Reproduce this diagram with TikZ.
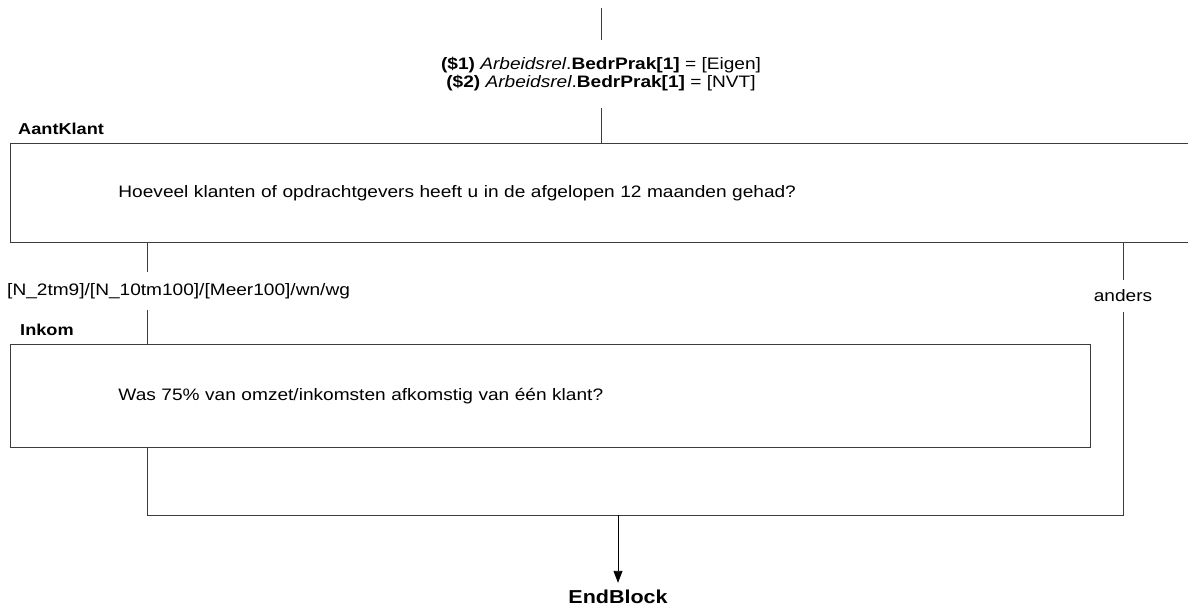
\documentclass[tikz,border=0pt]{standalone}
\usepackage{fontspec}
\setmainfont[FakeStretch=1.15]{Liberation Sans}
\usetikzlibrary{arrows.meta,positioning,calc}
\definecolor{lineG}{RGB}{60,60,60}

\begin{document}
\begin{tikzpicture}[x=1pt, y=-1pt,
  qbox/.style={draw=lineG, line width=0.9pt, anchor=north west, align=left,
    inner xsep=108pt, inner ysep=0pt, font=\fontsize{16.6}{17}\selectfont},
  title/.style={inner sep=0pt, font=\fontsize{15.8}{17}\selectfont\bfseries},
  lab/.style={inner sep=0pt, minimum height=#1, font=\fontsize{16.6}{17.5}\selectfont},
  conn/.style={draw=lineG, line width=0.9pt},
  arr/.style={-{Triangle[length=12pt, width=9pt]}, line width=0.9pt, black},
]
\useasboundingbox (0,0) rectangle (1188,610);
\clip (0,0) rectangle (1188,610);

% entry condition
\coordinate (top) at (601,8);
\node[lab=68pt, align=center] (cond) at (601,74) {%
  \textbf{(\$1)} \textit{Arbeidsrel}.\textbf{BedrPrak[1]} = [Eigen]\\
  \textbf{(\$2)} \textit{Arbeidsrel}.\textbf{BedrPrak[1]} = [NVT]};

% question AantKlant
\node[qbox, text width=984pt, minimum height=99pt] (box1) at (10,143) {%
  Hoeveel klanten of opdrachtgevers heeft u in de afgelopen 12 maanden gehad?};
\node[title, above right=8pt and 8pt of box1.north west] (t1) {AantKlant};

% branch labels
\node[lab=38pt, anchor=west] (lab1) at (7,291) {[N\_2tm9]/[N\_10tm100]/[Meer100]/wn/wg};
\node[lab=32pt] (lab2) at (1123,296) {anders};

% question Inkom
\node[qbox, text width=864pt, minimum height=103pt] (box2) at (10,344) {%
  Was 75\% van omzet/inkomsten afkomstig van één klant?};
\node[title, above right=8pt and 10pt of box2.north west] (t2) {Inkom};

% end of block
\coordinate (cl) at (147,515);
\coordinate (cr) at (1123,515);
\node[title, minimum height=28pt, font=\fontsize{18.7}{20}\selectfont\bfseries] (end) at (618,597) {EndBlock};

\draw[conn] (top) -- (cond);
\draw[conn] (cond) -- (cond |- box1.north);
\draw[conn] (box1.south -| cl) -- (lab1.north -| cl);
\draw[conn] (lab1.south -| cl) -- (box2.north -| cl);
\draw[conn] (box1.south -| cr) -- (lab2);
\draw[conn] (box2.south -| cl) -- (cl) -- (cr) -- (lab2);
\draw[arr] (cl -| end) -- (end);

\end{tikzpicture}
\end{document}
